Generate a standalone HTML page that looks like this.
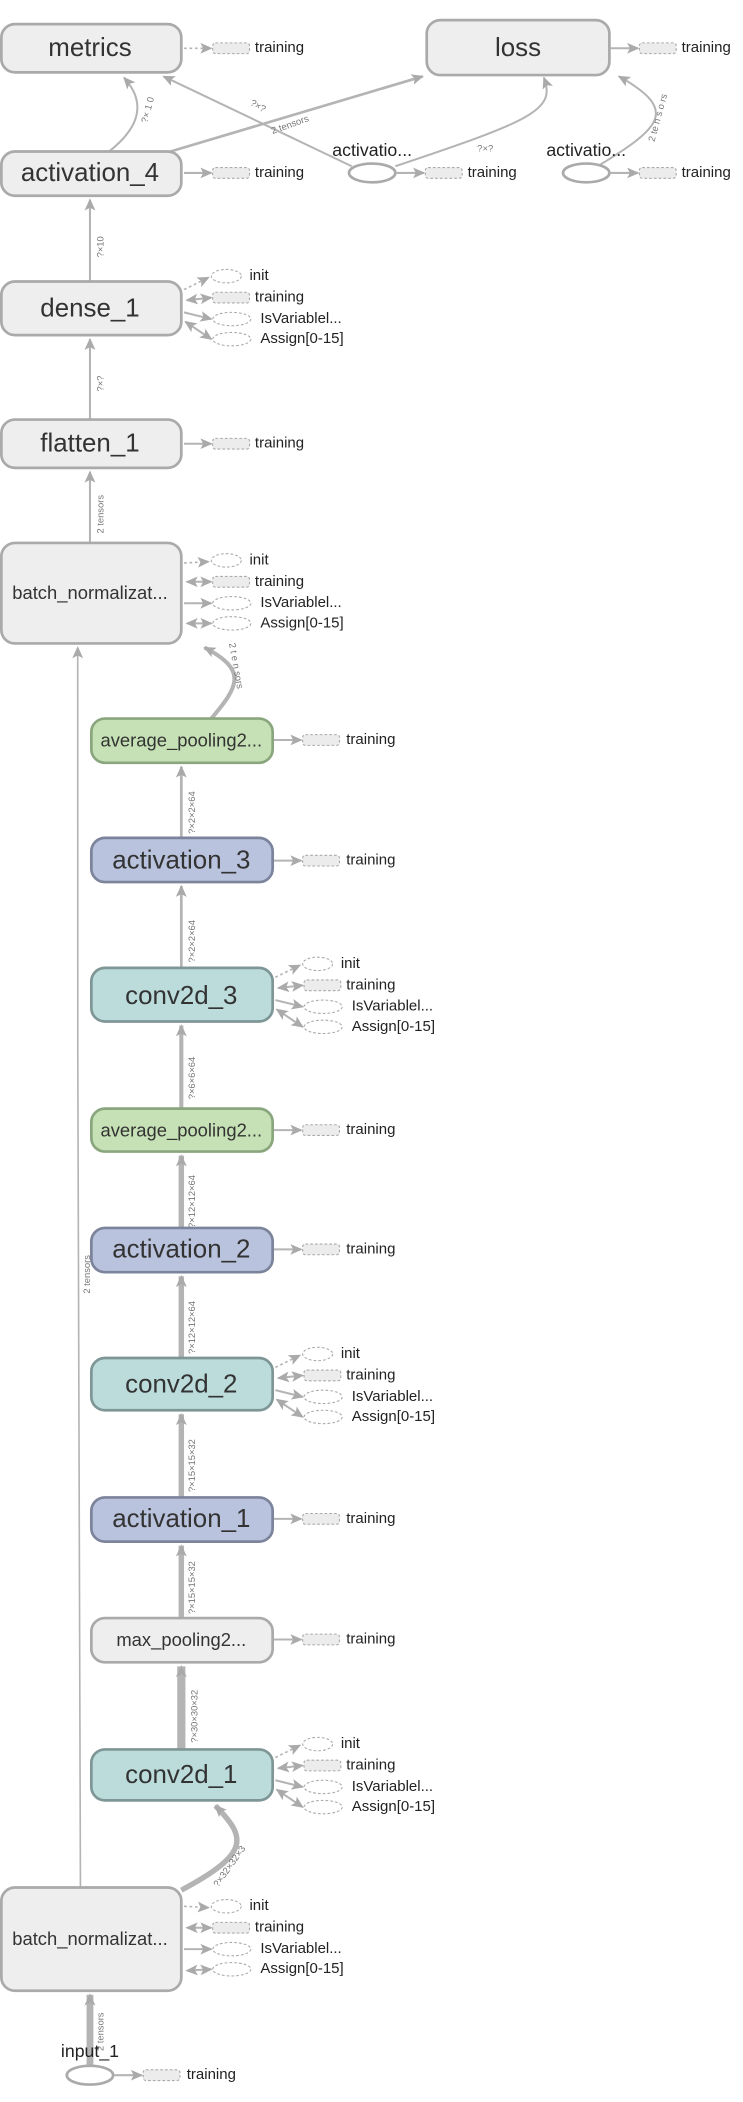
<!DOCTYPE html>
<html><head><meta charset="utf-8"><style>
html,body{margin:0;padding:0;background:#fff;}
svg{display:block;}
text{font-family:"Liberation Sans","DejaVu Sans",sans-serif;fill:#333;}
.n{font-size:19px;text-anchor:middle;dominant-baseline:central;}
.ns{font-size:13.5px;text-anchor:middle;dominant-baseline:central;}
.a{font-size:11px;dominant-baseline:central;fill:#222;}
.el{font-size:7px;fill:#777;}
.g{fill:#eee;stroke:#aaa;stroke-width:2;}
.gr{fill:#c5e1b5;stroke:#8aa67e;stroke-width:2;}
.bl{fill:#bac3dd;stroke:#7c849c;stroke-width:2;}
.tl{fill:#bcdcdc;stroke:#7f9696;stroke-width:2;}
.e{fill:none;stroke:#b4b4b4;}
.r{fill:#ececec;stroke:#aaa;stroke-width:0.8;stroke-dasharray:2 1.5;}
.o{fill:#fff;stroke:#aaa;stroke-width:0.8;stroke-dasharray:2 1.5;}
</style></head><body>
<svg width="743" height="2102" viewBox="0 0 545 1568" preserveAspectRatio="none" xmlns="http://www.w3.org/2000/svg">
<defs>
<marker id="m" markerWidth="10" markerHeight="10" refX="8" refY="5" orient="auto" markerUnits="userSpaceOnUse"><path d="M0,1 L9,5 L0,9 L2,5 z" fill="#aaa"/></marker>
<marker id="ms" markerWidth="10" markerHeight="10" refX="1" refY="5" orient="auto" markerUnits="userSpaceOnUse"><path d="M9,1 L0,5 L9,9 L7,5 z" fill="#aaa"/></marker>
</defs>

<path class="e" stroke-width="1.5" d="M80,113 Q115,85 91,58" marker-end="url(#m)"/>
<text class="el" transform="translate(108,92) rotate(-75)">?× 1 0</text>
<path class="e" stroke-width="2" d="M125,113 L310,57" marker-end="url(#m)"/>
<path class="e" stroke-width="1.5" d="M258,124 L120,57" marker-end="url(#m)"/>
<text class="el" transform="translate(183,78) rotate(30)">?×?</text>
<text class="el" transform="translate(200,100) rotate(-20)">2 tensors</text>
<path class="e" stroke-width="1.5" d="M290,124 C390,90 408,82 399,58" marker-end="url(#m)"/>
<text class="el" x="350" y="113">?×?</text>
<path class="e" stroke-width="1.5" d="M440,123 C485,95 498,82 454,57" marker-end="url(#m)"/>
<text class="el" transform="translate(480,106) rotate(-75)">2 te n s o rs</text>
<path class="e" stroke-width="1.5" d="M66,210 L66,149" marker-end="url(#m)"/>
<text class="el" transform="translate(76,192) rotate(-90)">?×10</text>
<path class="e" stroke-width="1.5" d="M66,313 L66,253" marker-end="url(#m)"/>
<text class="el" transform="translate(76,292) rotate(-90)">?×?</text>
<path class="e" stroke-width="1.5" d="M66,405 L66,352" marker-end="url(#m)"/>
<text class="el" transform="translate(76,398) rotate(-90)">2 tensors</text>
<path class="e" stroke-width="3" d="M155,536 C175,512 182,500 150,483" marker-end="url(#m)"/>
<text class="el" transform="translate(168,480) rotate(80)">2 t e n sors</text>
<path class="e" d="M59,1408 C57,1200 57,800 57,483" marker-end="url(#m)" stroke-width="1.2"/>
<text class="el" transform="translate(66,965) rotate(-90)">2 tensors</text>

<path class="e" stroke-width="2" d="M133,625 L133,572" marker-end="url(#m)"/>
<text class="el" transform="translate(143,622) rotate(-90)">?×2×2×64</text>
<path class="e" stroke-width="2" d="M133,722 L133,661" marker-end="url(#m)"/>
<text class="el" transform="translate(143,718) rotate(-90)">?×2×2×64</text>
<path class="e" stroke-width="3" d="M133,827 L133,765" marker-end="url(#m)"/>
<text class="el" transform="translate(143,820) rotate(-90)">?×6×6×64</text>
<path class="e" stroke-width="4" d="M133,916 L133,862" marker-end="url(#m)"/>
<text class="el" transform="translate(143,916) rotate(-90)">?×12×12×64</text>
<path class="e" stroke-width="4" d="M133,1013 L133,952" marker-end="url(#m)"/>
<text class="el" transform="translate(143,1010) rotate(-90)">?×12×12×64</text>
<path class="e" stroke-width="4" d="M133,1117 L133,1055" marker-end="url(#m)"/>
<text class="el" transform="translate(143,1113) rotate(-90)">?×15×15×32</text>
<path class="e" stroke-width="4" d="M133,1207 L133,1153" marker-end="url(#m)"/>
<text class="el" transform="translate(143,1204) rotate(-90)">?×15×15×32</text>
<path class="e" stroke-width="6" d="M133,1305 L133,1243" marker-end="url(#m)"/>
<text class="el" transform="translate(145,1300) rotate(-90)">?×30×30×32</text>
<path class="e" stroke-width="4" d="M133,1410 C185,1382 180,1370 158,1347" marker-end="url(#m)"/>
<text class="el" transform="translate(160,1408) rotate(-55)">?×32×32×3</text>
<path class="e" stroke-width="5" d="M66,1541 L66,1488" marker-end="url(#m)"/>
<text class="el" transform="translate(76,1530) rotate(-90)">2 tensors</text>

<rect class="g" x="1" y="18" width="132" height="36" rx="10"/><text class="n" x="66" y="36">metrics</text>
<rect class="g" x="313" y="15" width="134" height="41" rx="10"/><text class="n" x="380" y="36">loss</text>
<rect class="g" x="1" y="113" width="132" height="33" rx="10"/><text class="n" x="66" y="129">activation_4</text>
<rect class="g" x="1" y="210" width="132" height="40" rx="10"/><text class="n" x="66" y="230">dense_1</text>
<rect class="g" x="1" y="313" width="132" height="36" rx="10"/><text class="n" x="66" y="331">flatten_1</text>
<rect class="g" x="1" y="405" width="132" height="75" rx="10"/><text class="ns" x="66" y="442">batch_normalizat...</text>
<rect class="gr" x="67" y="536" width="133" height="33" rx="10"/><text class="ns" x="133" y="552">average_pooling2...</text>
<rect class="bl" x="67" y="625" width="133" height="33" rx="10"/><text class="n" x="133" y="642">activation_3</text>
<rect class="tl" x="67" y="722" width="133" height="40" rx="10"/><text class="n" x="133" y="743">conv2d_3</text>
<rect class="gr" x="67" y="827" width="133" height="32" rx="10"/><text class="ns" x="133" y="843">average_pooling2...</text>
<rect class="bl" x="67" y="916" width="133" height="33" rx="10"/><text class="n" x="133" y="932">activation_2</text>
<rect class="tl" x="67" y="1013" width="133" height="39" rx="10"/><text class="n" x="133" y="1033">conv2d_2</text>
<rect class="bl" x="67" y="1117" width="133" height="33" rx="10"/><text class="n" x="133" y="1133">activation_1</text>
<rect class="g" x="67" y="1207" width="133" height="33" rx="10"/><text class="ns" x="133" y="1223">max_pooling2...</text>
<rect class="tl" x="67" y="1305" width="133" height="38" rx="10"/><text class="n" x="133" y="1324">conv2d_1</text>
<rect class="g" x="1" y="1408" width="132" height="77" rx="10"/><text class="ns" x="66" y="1446">batch_normalizat...</text>
<ellipse cx="66" cy="1548" rx="17" ry="7" fill="#fff" stroke="#aaa" stroke-width="2"/>
<text class="a" x="66" y="1530" text-anchor="middle" style="font-size:13px">input_1</text>
<ellipse cx="273" cy="129" rx="17" ry="7" fill="#fff" stroke="#aaa" stroke-width="2"/>
<text class="a" x="273" y="112" text-anchor="middle" style="font-size:13px">activatio...</text>
<ellipse cx="430" cy="129" rx="17" ry="7" fill="#fff" stroke="#aaa" stroke-width="2"/>
<text class="a" x="430" y="112" text-anchor="middle" style="font-size:13px">activatio...</text>

<g>
<path class="e" stroke-width="1.2" stroke-dasharray="2 2" d="M135,36 L155,36" marker-end="url(#m)"/><rect class="r" x="156" y="32" width="27" height="8" rx="2"/><text class="a" x="187" y="36">training</text>
<path class="e" stroke-width="1.5" d="M448,36 L468,36" marker-end="url(#m)"/><rect class="r" x="469" y="32" width="27" height="8" rx="2"/><text class="a" x="500" y="36">training</text>
<path class="e" stroke-width="1.5" d="M135,129 L155,129" marker-end="url(#m)"/><rect class="r" x="156" y="125" width="27" height="8" rx="2"/><text class="a" x="187" y="129">training</text>
<path class="e" stroke-width="1.5" d="M291,129 L311,129" marker-end="url(#m)"/><rect class="r" x="312" y="125" width="27" height="8" rx="2"/><text class="a" x="343" y="129">training</text>
<path class="e" stroke-width="1.5" d="M448,129 L468,129" marker-end="url(#m)"/><rect class="r" x="469" y="125" width="27" height="8" rx="2"/><text class="a" x="500" y="129">training</text>
<path class="e" stroke-width="1.5" d="M135,331 L155,331" marker-end="url(#m)"/><rect class="r" x="156" y="327" width="27" height="8" rx="2"/><text class="a" x="187" y="331">training</text>
<path class="e" stroke-width="1.5" d="M201,552 L221,552" marker-end="url(#m)"/><rect class="r" x="222" y="548" width="27" height="8" rx="2"/><text class="a" x="254" y="552">training</text>
<path class="e" stroke-width="1.5" d="M201,642 L221,642" marker-end="url(#m)"/><rect class="r" x="222" y="638" width="27" height="8" rx="2"/><text class="a" x="254" y="642">training</text>
<path class="e" stroke-width="1.5" d="M201,843 L221,843" marker-end="url(#m)"/><rect class="r" x="222" y="839" width="27" height="8" rx="2"/><text class="a" x="254" y="843">training</text>
<path class="e" stroke-width="1.5" d="M201,932 L221,932" marker-end="url(#m)"/><rect class="r" x="222" y="928" width="27" height="8" rx="2"/><text class="a" x="254" y="932">training</text>
<path class="e" stroke-width="1.5" d="M201,1133 L221,1133" marker-end="url(#m)"/><rect class="r" x="222" y="1129" width="27" height="8" rx="2"/><text class="a" x="254" y="1133">training</text>
<path class="e" stroke-width="1.5" d="M201,1223 L221,1223" marker-end="url(#m)"/><rect class="r" x="222" y="1219" width="27" height="8" rx="2"/><text class="a" x="254" y="1223">training</text>
<path class="e" stroke-width="1.5" d="M84,1548 L104,1548" marker-end="url(#m)"/><rect class="r" x="105" y="1544" width="27" height="8" rx="2"/><text class="a" x="137" y="1548">training</text>
</g>

<g transform="translate(0,0)">
<path class="e" stroke-width="1.2" stroke-dasharray="2 2" d="M135,216 L153,207" marker-end="url(#m)"/>
<ellipse class="o" cx="166" cy="206" rx="11" ry="5"/><text class="a" x="183" y="206">init</text>
<path class="e" stroke-width="1.5" d="M137,224 L155,222" marker-end="url(#m)" marker-start="url(#ms)"/>
<rect class="r" x="156" y="218" width="27" height="8" rx="2"/><text class="a" x="187" y="222">training</text>
<path class="e" stroke-width="1.5" d="M135,233 L155,238" marker-end="url(#m)"/>
<ellipse class="o" cx="170" cy="238" rx="14" ry="5"/><text class="a" x="191" y="238">IsVariablel...</text>
<path class="e" stroke-width="1.5" d="M136,240 L155,253" marker-end="url(#m)" marker-start="url(#ms)"/>
<ellipse class="o" cx="170" cy="253" rx="14" ry="5"/><text class="a" x="191" y="253">Assign[0-15]</text>
</g>
<g transform="translate(0,212)">
<path class="e" stroke-width="1.2" stroke-dasharray="2 2" d="M135,208 L153,207" marker-end="url(#m)"/>
<ellipse class="o" cx="166" cy="206" rx="11" ry="5"/><text class="a" x="183" y="206">init</text>
<path class="e" stroke-width="1.5" d="M137,222 L155,222" marker-end="url(#m)" marker-start="url(#ms)"/>
<rect class="r" x="156" y="218" width="27" height="8" rx="2"/><text class="a" x="187" y="222">training</text>
<path class="e" stroke-width="1.5" d="M135,238 L155,238" marker-end="url(#m)"/>
<ellipse class="o" cx="170" cy="238" rx="14" ry="5"/><text class="a" x="191" y="238">IsVariablel...</text>
<path class="e" stroke-width="1.5" d="M137,253 L155,253" marker-end="url(#m)" marker-start="url(#ms)"/>
<ellipse class="o" cx="170" cy="253" rx="14" ry="5"/><text class="a" x="191" y="253">Assign[0-15]</text>
</g>
<g transform="translate(67,513)">
<path class="e" stroke-width="1.2" stroke-dasharray="2 2" d="M135,216 L153,207" marker-end="url(#m)"/>
<ellipse class="o" cx="166" cy="206" rx="11" ry="5"/><text class="a" x="183" y="206">init</text>
<path class="e" stroke-width="1.5" d="M137,224 L155,222" marker-end="url(#m)" marker-start="url(#ms)"/>
<rect class="r" x="156" y="218" width="27" height="8" rx="2"/><text class="a" x="187" y="222">training</text>
<path class="e" stroke-width="1.5" d="M135,233 L155,238" marker-end="url(#m)"/>
<ellipse class="o" cx="170" cy="238" rx="14" ry="5"/><text class="a" x="191" y="238">IsVariablel...</text>
<path class="e" stroke-width="1.5" d="M136,240 L155,253" marker-end="url(#m)" marker-start="url(#ms)"/>
<ellipse class="o" cx="170" cy="253" rx="14" ry="5"/><text class="a" x="191" y="253">Assign[0-15]</text>
</g>
<g transform="translate(67,804)">
<path class="e" stroke-width="1.2" stroke-dasharray="2 2" d="M135,216 L153,207" marker-end="url(#m)"/>
<ellipse class="o" cx="166" cy="206" rx="11" ry="5"/><text class="a" x="183" y="206">init</text>
<path class="e" stroke-width="1.5" d="M137,224 L155,222" marker-end="url(#m)" marker-start="url(#ms)"/>
<rect class="r" x="156" y="218" width="27" height="8" rx="2"/><text class="a" x="187" y="222">training</text>
<path class="e" stroke-width="1.5" d="M135,233 L155,238" marker-end="url(#m)"/>
<ellipse class="o" cx="170" cy="238" rx="14" ry="5"/><text class="a" x="191" y="238">IsVariablel...</text>
<path class="e" stroke-width="1.5" d="M136,240 L155,253" marker-end="url(#m)" marker-start="url(#ms)"/>
<ellipse class="o" cx="170" cy="253" rx="14" ry="5"/><text class="a" x="191" y="253">Assign[0-15]</text>
</g>
<g transform="translate(67,1095)">
<path class="e" stroke-width="1.2" stroke-dasharray="2 2" d="M135,216 L153,207" marker-end="url(#m)"/>
<ellipse class="o" cx="166" cy="206" rx="11" ry="5"/><text class="a" x="183" y="206">init</text>
<path class="e" stroke-width="1.5" d="M137,224 L155,222" marker-end="url(#m)" marker-start="url(#ms)"/>
<rect class="r" x="156" y="218" width="27" height="8" rx="2"/><text class="a" x="187" y="222">training</text>
<path class="e" stroke-width="1.5" d="M135,233 L155,238" marker-end="url(#m)"/>
<ellipse class="o" cx="170" cy="238" rx="14" ry="5"/><text class="a" x="191" y="238">IsVariablel...</text>
<path class="e" stroke-width="1.5" d="M136,240 L155,253" marker-end="url(#m)" marker-start="url(#ms)"/>
<ellipse class="o" cx="170" cy="253" rx="14" ry="5"/><text class="a" x="191" y="253">Assign[0-15]</text>
</g>
<g transform="translate(0,1216)">
<path class="e" stroke-width="1.2" stroke-dasharray="2 2" d="M135,206 L153,207" marker-end="url(#m)"/>
<ellipse class="o" cx="166" cy="206" rx="11" ry="5"/><text class="a" x="183" y="206">init</text>
<path class="e" stroke-width="1.5" d="M137,222 L155,222" marker-end="url(#m)" marker-start="url(#ms)"/>
<rect class="r" x="156" y="218" width="27" height="8" rx="2"/><text class="a" x="187" y="222">training</text>
<path class="e" stroke-width="1.5" d="M135,238 L155,238" marker-end="url(#m)"/>
<ellipse class="o" cx="170" cy="238" rx="14" ry="5"/><text class="a" x="191" y="238">IsVariablel...</text>
<path class="e" stroke-width="1.5" d="M137,254 L155,253" marker-end="url(#m)" marker-start="url(#ms)"/>
<ellipse class="o" cx="170" cy="253" rx="14" ry="5"/><text class="a" x="191" y="253">Assign[0-15]</text>
</g>
</svg>
</body></html>
